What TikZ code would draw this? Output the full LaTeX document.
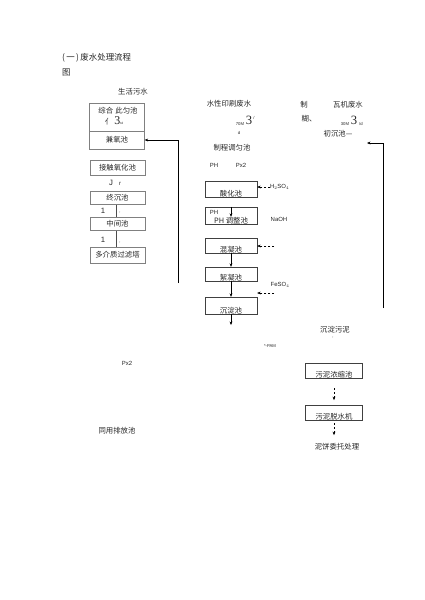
\documentclass[tikz,border=0pt]{standalone}
\usepackage{fontspec}
\setmainfont{Noto Sans CJK SC}
\newfontfamily\latinfont{Liberation Sans}
\newfontfamily\numfont{Liberation Serif}
\usetikzlibrary{positioning, arrows.meta}

\begin{document}
\begin{tikzpicture}[
    x=0.05cm, y=-0.05cm,
    cn/.style={font=\fontsize{10.5}{12}\selectfont, text=black!85, inner sep=0pt},
    titletxt/.style={font=\fontsize{12}{14}\selectfont, text=black!85, inner sep=0pt, anchor=west},
    smalltxt/.style={font=\latinfont\fontsize{8.5}{10}\selectfont, text=black!85, inner sep=0pt},
    tinytxt/.style={font=\latinfont\fontsize{6}{7}\selectfont, text=black!85, inner sep=0pt},
    marktxt/.style={font=\latinfont\fontsize{11}{11}\selectfont, text=black!85, inner sep=0pt},
    bigthree/.style={font=\numfont\fontsize{18}{18}\selectfont, text=black!85, inner sep=0pt},
    leftbox/.style={rectangle, draw=black!50, thin, minimum width=2.75cm,
                    inner sep=0pt, font=\fontsize{10.5}{12}\selectfont, text=black!85},
    midbox/.style={rectangle, draw=black!75, thin, minimum width=2.6cm,
                   inner sep=0pt},
    boxtext/.style={label={[cn, anchor=center, yshift=0.15cm]south:#1}},
    arrow/.style={-{Stealth[length=5pt, width=4pt]}, semithick},
    dasharrow/.style={arrow, dash pattern=on 3pt off 2.5pt}
  ]
    \useasboundingbox (0,0) rectangle (424,600);

    % Title
    \node[titletxt] (title) at (62,58) {(\,一\,)\,废水处理流程};
    \node[titletxt] (tu) at (62,72) {图};

    % Domestic sewage line (left)
    \node[cn] (shenghuo) at (133,92) {生活污水};
    \node[leftbox, minimum height=1.4cm] (zonghe) at (117,117) {};
    \node[cn] (zh1) at (118,111) {综合\hspace{0.3em}此匀池};
    \node[cn] (zh2) at (114,121) {亻\hspace{3pt}{\numfont\fontsize{17}{17}\selectfont 3}{\latinfont\fontsize{4.5}{5}\selectfont td}};
    \node[leftbox, minimum height=0.9cm] (jianyang) at (117,140) {兼氧池};
    \node[leftbox, minimum height=0.75cm] (jiechu) at (117.5,167.5) {接触氧化池};
    \node[leftbox, minimum height=0.65cm] (zhongchen) at (117.5,198) {终沉池};
    \node[leftbox, minimum height=0.65cm] (zhongjian) at (117.5,224) {中间池};
    \node[leftbox, minimum height=0.8cm] (duojie) at (117.5,255) {多介质过滤塔};

    % Marks between the left boxes
    \node[marktxt] (mj) at (111,183) {J};
    \node[smalltxt] (mr) at (120,184) {r};
    \node[marktxt] (m1a) at (103,211) {1};
    \node[tinytxt] (mca) at (120,213) {,};
    \node[marktxt] (m1b) at (103,240) {1};
    \node[tinytxt] (mcb) at (120,243) {,};
    \draw[black!70, semithick] ([xshift=-0.075cm]zhongchen.south) -- ([xshift=-0.075cm]zhongjian.north);
    \draw[black!70, semithick] ([xshift=-0.075cm]zhongjian.south) -- ([xshift=-0.075cm]duojie.north);

    % Return line into the anoxic tank
    \coordinate (lfoot) at (178,283);
    \draw[arrow] (lfoot) |- (jianyang.east);

    % Printing wastewater line (middle)
    \node[cn] (shuixing) at (229,104) {水性印刷废水};
    \node[tinytxt] (m70) at (240,124) {70M};
    \node[bigthree] (three1) at (249,120) {3};
    \node[tinytxt] (sl1) at (254,118) {/};
    \node[tinytxt] (dd) at (239,133) {d};
    \node[cn] (zhicheng) at (232,148) {制程调匀池};
    \node[smalltxt] (ph) at (214,165) {PH};
    \node[smalltxt] (px2a) at (241,165) {Px2};

    \node[midbox, minimum height=0.8cm, boxtext=酸化池] (suanhua) at (231,189) {};
    \node[midbox, minimum height=0.85cm, boxtext=PH 调整池] (tiaozheng) at (231,215.5) {};
    \node[smalltxt] (phin) at (214,212) {PH};
    \node[midbox, minimum height=0.75cm, boxtext=混凝池] (hunning) at (231,245.5) {};
    \node[midbox, minimum height=0.7cm, boxtext=絮凝池] (xuning) at (231,274) {};
    \node[midbox, minimum height=0.85cm, boxtext=沉淀池] (chendian) at (231,305.5) {};

    % Dosing
    \node[smalltxt, anchor=west] (h2so4) at (270,187) {H$_2$SO$_4$};
    \node[smalltxt] (naoh) at (279,219) {NaOH};
    \node[smalltxt] (feso4) at (280,285) {FeSO$_4$};
    \coordinate (hnin) at (274,246);
    \coordinate (fein) at (274,293);
    \node[tinytxt] (pam) at (270,346) {*-PAM};

    \draw[dasharrow] (h2so4.west) -- (h2so4.west -| suanhua.east);
    \draw[arrow] (tiaozheng.north) -- ++(0,10);
    \draw[dasharrow] (hnin) -- (hnin -| hunning.east);
    \draw[arrow] (hunning) -- (xuning);
    \draw[dasharrow] (fein) -- (fein -| chendian.east);
    \draw[arrow] (xuning) -- (chendian);
    \coordinate (chout) at (231,325);
    \draw[arrow] (chendian) -- (chout);

    % Tile machine wastewater (right)
    \node[cn] (zhi) at (304,105) {制};
    \node[cn] (hu) at (309,119) {糊、};
    \node[cn] (waji) at (348,105) {瓦机废水};
    \node[tinytxt] (m30) at (345,124) {30M};
    \node[bigthree] (three2) at (354,120) {3};
    \node[tinytxt] (sl2) at (361,124) {/d};
    \node[cn] (chuchen) at (338,134) {初沉池—};
    \coordinate (rfoot) at (383,308);
    \coordinate (rtip) at (367,143);
    \draw[arrow] (rfoot) |- (rtip);

    % Sludge line
    \node[cn] (wuni) at (335,330) {沉淀污泥};
    \node[tinytxt] (tick) at (333,338) {,};
    \node[midbox, minimum width=2.85cm, minimum height=0.75cm, boxtext=污泥浓缩池] (nongsuo) at (334,370.5) {};
    \node[midbox, minimum width=2.85cm, minimum height=0.75cm, boxtext=污泥脱水机] (tuoshui) at (334,412.5) {};
    \node[cn] (nibing) at (337,447) {泥饼委托处理};
    \draw[dasharrow] ([yshift=-0.5cm]nongsuo.south) -- ++(0,12);
    \draw[dasharrow] ([yshift=-0.15cm]tuoshui.south) -- ++(0,12);

    % Lower left texts
    \node[smalltxt] (px2b) at (127,363) {Px2};
    \node[cn] (tongyong) at (117,431) {同用排放池};

  \end{tikzpicture}
\end{document}
